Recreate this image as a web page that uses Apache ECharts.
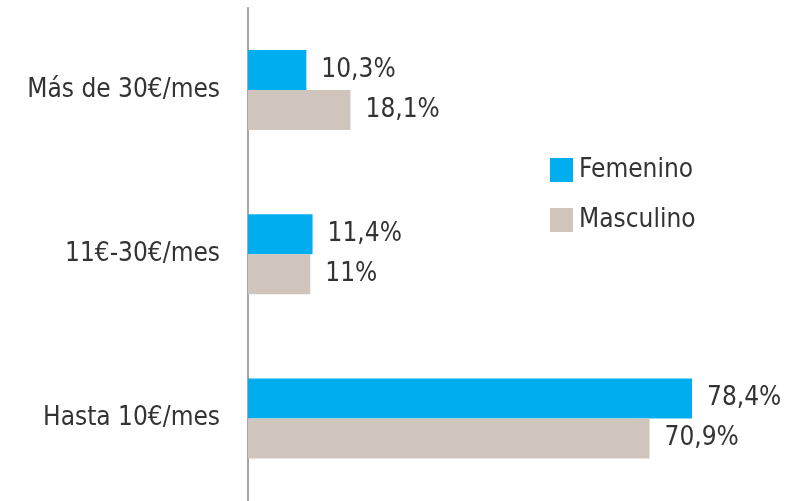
<!DOCTYPE html>
<html>
<head>
<meta charset="utf-8">
<script src="https://cdn.jsdelivr.net/npm/echarts@6/dist/echarts.min.js"></script>
<style>
  html, body { margin: 0; padding: 0; background: #ffffff; }
  #chart { width: 800px; height: 501px; }
</style>
</head>
<body>
<div id="chart"></div>
<script>
// Spending brackets, top to bottom
var categories = ['Más de 30€/mes', '11€-30€/mes', 'Hasta 10€/mes'];
// Share of respondents (%) by gender
var femenino = [10.3, 11.4, 78.4];
var masculino = [18.1, 11, 70.9];
var seriesNames = ['Femenino', 'Masculino'];

var FONT = "'Liberation Sans Narrow', 'DejaVu Sans Condensed', 'Roboto', sans-serif";
var TEXT = '#333333';
var SIZE = 26;

function fmt(v) {
  return String(v).replace('.', ',') + '%';
}

var chart = echarts.init(document.getElementById('chart'), null, { renderer: 'canvas' });

var labelStyle = {
  show: true,
  position: 'right',
  distance: 15,
  color: TEXT,
  fontFamily: FONT,
  fontSize: SIZE,
  formatter: function (p) { return fmt(p.value); }
};

chart.setOption({
  animation: false,
  backgroundColor: '#ffffff',
  grid: { left: 248, right: 42.3, top: 8, bottom: 0.5, containLabel: false },
  legend: {
    orient: 'vertical',
    left: 545,
    top: 152,
    itemWidth: 23,
    itemHeight: 24,
    itemGap: 24,
    icon: 'rect',
    data: seriesNames,
    textStyle: { color: TEXT, fontFamily: FONT, fontSize: SIZE, padding: [0, 0, 0, 1] }
  },
  xAxis: {
    type: 'value',
    min: 0,
    max: 90,
    show: false
  },
  yAxis: {
    type: 'category',
    inverse: true,
    data: categories,
    axisLine: { show: true, lineStyle: { color: '#a6a6a6', width: 2 } },
    axisTick: { show: false },
    axisLabel: { color: TEXT, fontFamily: FONT, fontSize: SIZE, margin: 28 }
  },
  series: [
    {
      name: seriesNames[0],
      type: 'bar',
      data: femenino,
      barWidth: 40,
      barGap: '0%',
      itemStyle: { color: '#00aeef' },
      label: labelStyle
    },
    {
      name: seriesNames[1],
      type: 'bar',
      data: masculino,
      barWidth: 40,
      barGap: '0%',
      itemStyle: { color: '#cfc5bc' },
      label: labelStyle
    }
  ]
});
</script>
</body>
</html>
